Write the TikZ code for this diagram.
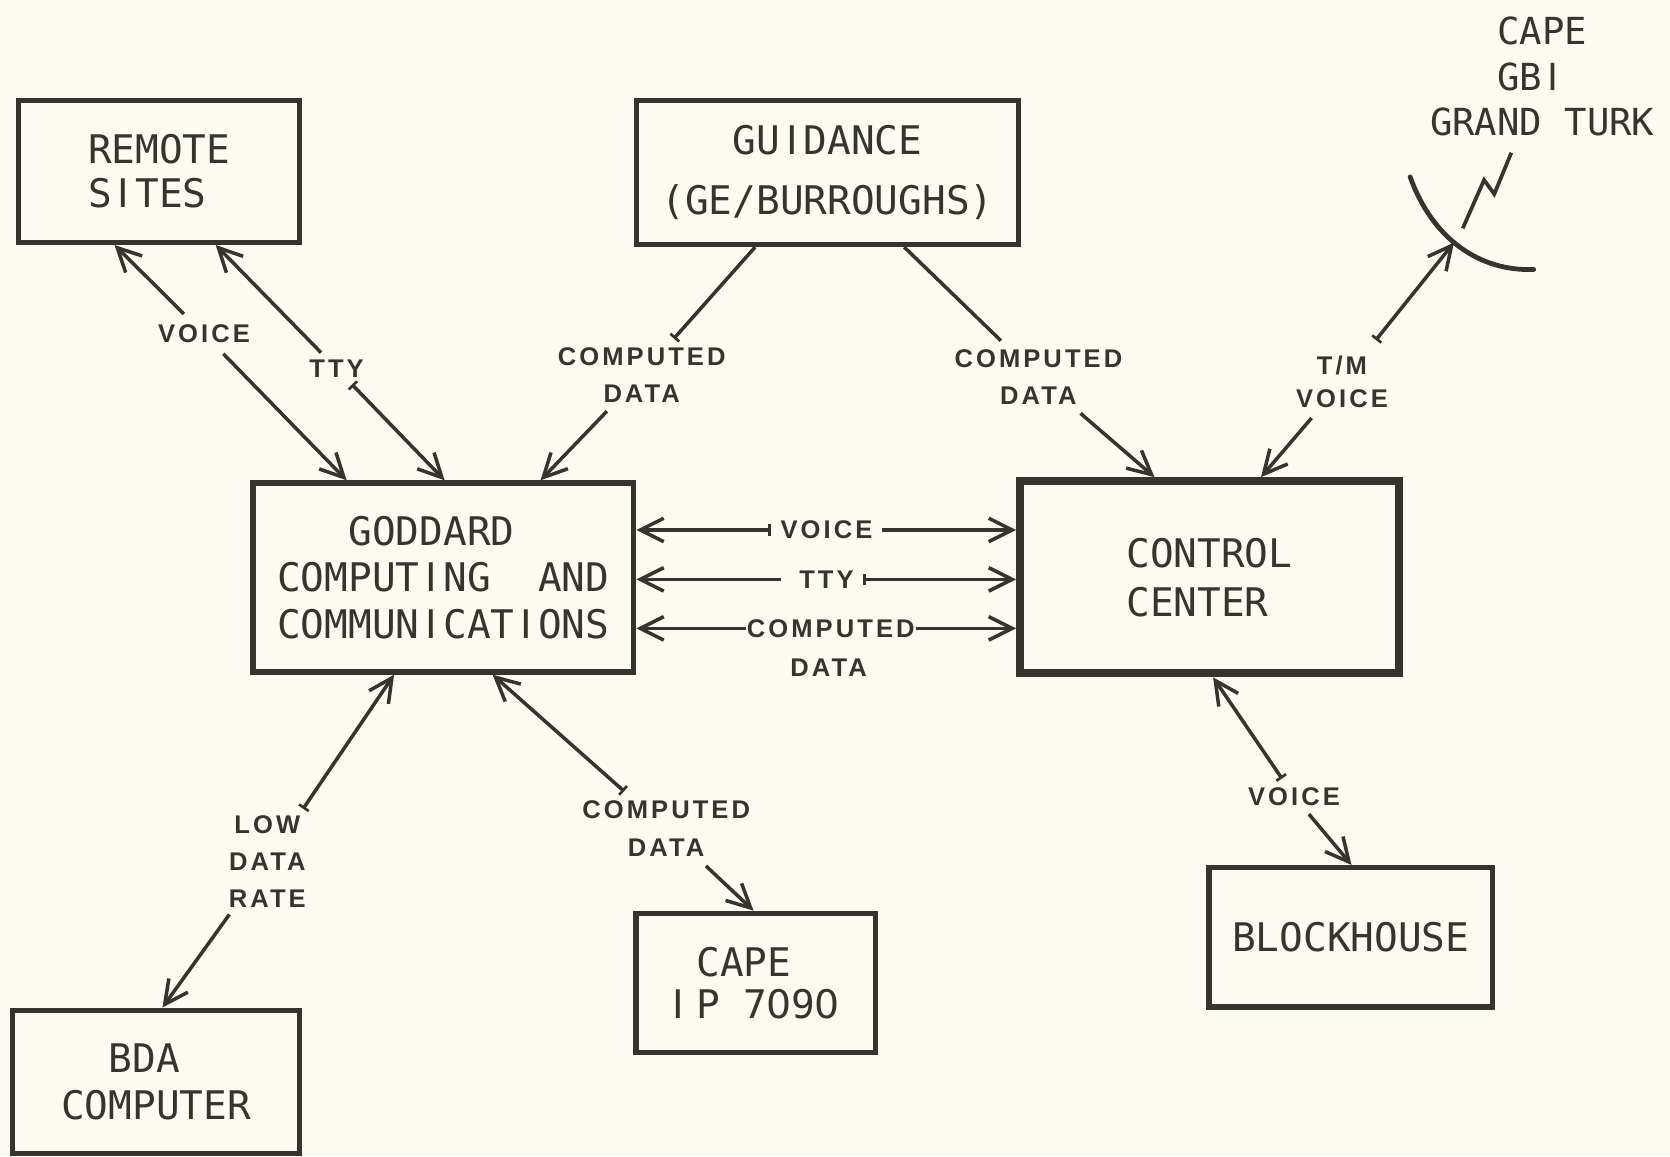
\documentclass[tikz,border=0pt]{standalone}
\usepackage{fontspec}
\usetikzlibrary{arrows.meta,calc}
\newfontfamily\boxfont{DejaVu Sans Mono}
\newfontfamily\plainfont{DejaVu Sans}
\newfontfamily\lblfont{Liberation Sans Bold}[LetterSpace=12]
\definecolor{paper}{RGB}{252,251,241}
\definecolor{ink}{RGB}{55,52,48}
% one monospace cell holding a plain sans glyph
\newcommand\C[2][c]{\sbox0{X}\makebox[\wd0][#1]{\plainfont #2}}
\begin{document}
\begin{tikzpicture}[x=1pt,y=-1pt,
  box/.style={draw=ink, line width=5pt, rectangle, inner sep=0pt, text=ink,
    font=\boxfont\fontsize{37}{44}\selectfont},
  lbl/.style={text=ink, font=\lblfont\fontsize{24}{35}\selectfont, align=center, inner sep=8pt},
  link/.style={draw=ink, line width=3.3pt},
  arr/.style={-{Straight Barb[length=22pt,width=22pt]}},
  barr/.style={{Bar[width=11pt,line width=2.5pt]}-{Straight Barb[length=22pt,width=22pt]}},
  bar/.style={{Bar[width=11pt,line width=2.5pt]}-}
]
\useasboundingbox[fill=paper] (0,0) rectangle (1568,1085.4);

% ---- boxes
\node[box, minimum width=264pt, minimum height=133pt, align=left] (remote) at (149.5,161)
  {REMOTE\\[-2.5pt]S\C{I}TES};
\node[box, minimum width=359pt, minimum height=135pt, align=center] (guidance) at (777,162)
  {GU\C{I}DANCE\\[13pt](GE/BURROUGHS)};
\node[box, minimum width=357.5pt, minimum height=177.5pt, align=left] (goddard) at (416.25,542.25)
  {\hphantom{XXX}GODDARD\\COMPUT\C{I}NG\hphantom{XX}AND\\COMMUN\C{I}CAT\C{I}ONS};
\node[box, line width=7.5pt, minimum width=355.5pt, minimum height=180.5pt, align=left] (control) at (1135.5,542)
  {CONTROL\\[2pt]CENTER};
\node[box, minimum width=270pt, minimum height=134.5pt, align=left] (bda) at (146.5,1015.75)
  {\hphantom{XX}BDA\\COMPUTER};
\node[box, minimum width=225pt, minimum height=131pt, align=left] (cape) at (709.5,923)
  {\hphantom{X}CAPE\\[-4pt]\C[l]{I}P\hphantom{X}7\C{0}9\C{0}};
\node[box, minimum width=266.4pt, minimum height=130.7pt] (block) at (1268.3,880)
  {BLOCKHOUSE};

% ---- tracking stations and dish
\node[text=ink, font=\boxfont\fontsize{35}{42.5}\selectfont, align=left, inner sep=0pt] (sites) at (1448,71.8)
  {\hphantom{XXX}CAPE\\\hphantom{XXX}GB\C{I}\\GRAND\hphantom{X}TURK};
\draw[ink, line width=4.5pt, line cap=round] (1324,166) .. controls (1345,225) and (1390,255) .. (1440,253)
  coordinate[pos=0.45] (dishpt);
\draw[ink, line width=3.5pt] (1419,143.4) -- (1403,182.2) -- (1393.4,169) -- (1373.4,214.4);

% ---- labels
\node[lbl, inner sep=10pt] (lv1) at (191.5,313.5) {VOICE};
\node[lbl, inner sep=6.5pt] (lt1) at (316,346) {TTY};
\node[lbl] (lc1) at (602.5,352) {COMPUTED\\DATA};
\node[lbl] (lc2) at (975,354) {COMPUTED\\DATA};
\node[lbl, inner sep=9pt] (ltm) at (1260,359) {T/M\\[-4pt]VOICE};
\node[lbl, inner xsep=9pt] (lhv) at (776,497.6) {VOICE};
\node[lbl, inner xsep=9pt] (lht) at (776,544) {TTY};
\node[lbl, inner xsep=1pt] (lhc) at (780,590) {COMPUTED};
\node[lbl] (lhd) at (778,627) {DATA};
\node[lbl, inner sep=6pt] (llow) at (251,809) {LOW\\DATA\\RATE};
\node[lbl, inner sep=9pt] (lcape) at (625.5,778) {COMPUTED\\DATA};
\node[lbl] (lbv) at (1215,747.7) {VOICE};

% ---- connectors
\draw[link,arr] (lv1) -- ([xshift=-42pt]remote.south);
\draw[link,arr] (lv1) -- ([xshift=-90.75pt]goddard.north);
\draw[link,arr] (lt1) -- ([xshift=53pt]remote.south);
\draw[link,barr] (lt1) -- ([xshift=1.25pt]goddard.north);
\draw[link,bar] (lc1) -- ([xshift=-68pt]guidance.south);
\draw[link,arr] (lc1) -- ([xshift=91.25pt]goddard.north);
\draw[link] (lc2) -- ([xshift=72pt]guidance.south);
\draw[link,arr] (lc2) -- ([xshift=-51.5pt]control.north);
\draw[link,barr,shorten <=8pt] (ltm) -- (dishpt);
\draw[link,arr] (ltm) -- ([xshift=48.5pt]control.north);
\draw[link,barr] (lhv) -- (goddard.east |- lhv);
\draw[link,arr] (lhv) -- (control.west |- lhv);
\draw[link,arr,shorten <=8pt] (lht) -- (goddard.east |- lht);
\draw[link,barr] (lht) -- (control.west |- lht);
\draw[link,arr] (lhc) -- (goddard.east |- lhc);
\draw[link,arr] (lhc) -- (control.west |- lhc);
\draw[link,barr] (llow) -- ([xshift=-46.25pt]goddard.south);
\draw[link,arr] (llow) -- ([xshift=6pt]bda.north);
\draw[link,barr] (lcape) -- ([xshift=46.25pt]goddard.south);
\draw[link,arr] (lcape) -- ([xshift=-2pt]cape.north);
\draw[link,barr] (lbv) -- ([xshift=3.5pt]control.south);
\draw[link,arr] (lbv) -- ([xshift=0.7pt]block.north);
\end{tikzpicture}
\end{document}
